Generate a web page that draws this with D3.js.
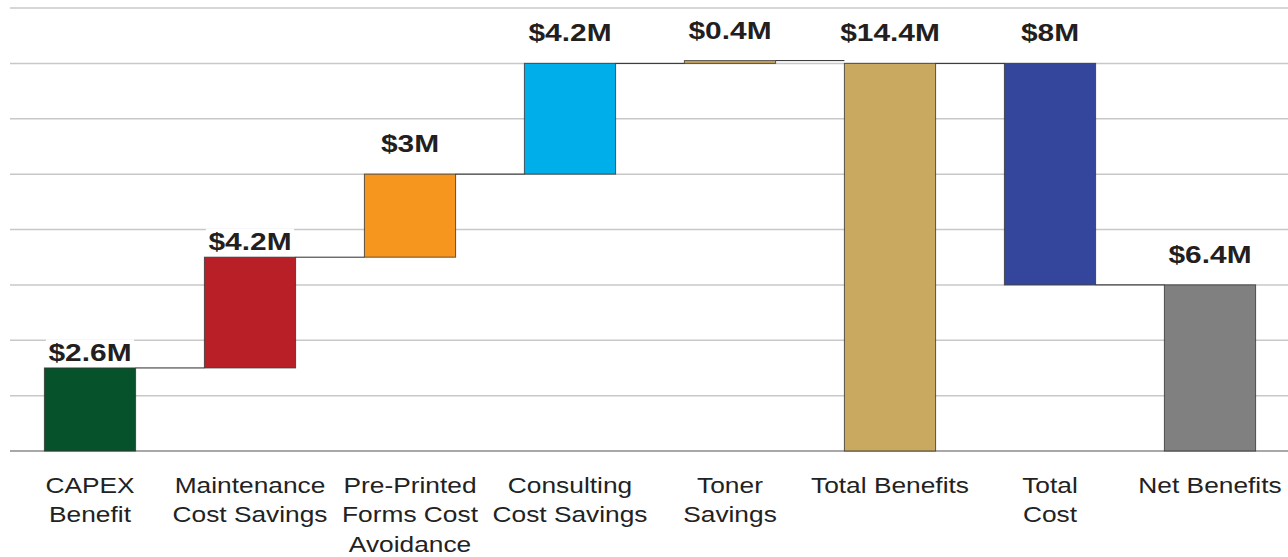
<!DOCTYPE html>
<html>
<head>
<meta charset="utf-8">
<script src="https://cdn.jsdelivr.net/npm/d3@7"></script>
<style>
  body { margin: 0; background: #fff; }
  svg { display: block; font-family: "Liberation Sans", Arial, Helvetica, sans-serif; }
</style>
</head>
<body>
<div id="chart"></div>
<script>
// chart data
var categories = [
  ["CAPEX", "Benefit"],
  ["Maintenance", "Cost Savings"],
  ["Pre-Printed", "Forms Cost", "Avoidance"],
  ["Consulting", "Cost Savings"],
  ["Toner", "Savings"],
  ["Total Benefits"],
  ["Total", "Cost"],
  ["Net Benefits"]
];
var steps = [3, 4, 3, 4, 0.1, 14, -8, 6];
var kinds = ["step", "step", "step", "step", "step", "total", "step", "total"];
var valueLabels = ["$2.6M", "$4.2M", "$3M", "$4.2M", "$0.4M", "$14.4M", "$8M", "$6.4M"];
var barColors = ["#06522a", "#b81f26", "#f6961f", "#00aeea", "#c9a860", "#c9a860", "#34469b", "#808080"];
var gridValues = [0, 2, 4, 6, 8, 10, 12, 14, 16];

function init() {
  var width = 1288, height = 557;

  var svg = d3.select("#chart")
    .append("svg")
    .attr("width", width)
    .attr("height", height);

  var x = d3.scaleBand()
    .domain(d3.range(categories.length))
    .range([10, 1290])
    .paddingInner(0.43)
    .paddingOuter(0.215);

  var y = d3.scaleLinear().domain([0, 16]).range([451, 8]);

  // running totals for the waterfall
  var level = 0;
  var bars = steps.map(function (v, i) {
    var y0, y1;
    if (kinds[i] === "total") {
      y0 = 0; y1 = v; level = v;
    } else {
      y0 = level; y1 = level + v; level = y1;
    }
    return { i: i, y0: y0, y1: y1, end: level };
  });

  // gridlines
  svg.append("g")
    .selectAll("line")
    .data(gridValues)
    .enter()
    .append("line")
    .attr("x1", 10)
    .attr("x2", width)
    .attr("y1", function (d) { return y(d); })
    .attr("y2", function (d) { return y(d); })
    .attr("stroke", function (d) { return d === 0 ? "#a8a8a8" : "#c8c8c8"; })
    .attr("stroke-width", function (d) { return d === 0 ? 2 : 1.5; });

  // bars
  svg.append("g")
    .selectAll("rect")
    .data(bars)
    .enter()
    .append("rect")
    .attr("x", function (d) { return x(d.i); })
    .attr("width", x.bandwidth())
    .attr("y", function (d) { return y(Math.max(d.y0, d.y1)); })
    .attr("height", function (d) { return Math.abs(y(d.y0) - y(d.y1)); })
    .attr("fill", function (d) { return barColors[d.i]; })
    .attr("stroke", "#333")
    .attr("stroke-opacity", 0.8)
    .attr("stroke-width", 1);

  // connectors between bars
  svg.append("g")
    .selectAll("line")
    .data(bars.slice(0, -1))
    .enter()
    .append("line")
    .attr("x1", function (d) { return x(d.i) + x.bandwidth(); })
    .attr("x2", function (d) { return x(d.i + 1); })
    .attr("y1", function (d) { return y(d.end); })
    .attr("y2", function (d) { return y(d.end); })
    .attr("stroke", "#2a2a2a")
    .attr("stroke-width", 1);

  // value labels (the picture is stretched sideways, so are the glyphs)
  var labels = svg.append("g")
    .selectAll("g")
    .data(bars)
    .enter()
    .append("g")
    .attr("transform", function (d) {
      var gap = d.i < 2 ? 7 : 22;
      var top = y(Math.max(d.y0, d.y1));
      return "translate(" + (x(d.i) + x.bandwidth() / 2) + "," + (top - gap) + ") scale(1.3,1)";
    });

  labels.append("text")
    .attr("text-anchor", "middle")
    .style("font-size", "23px")
    .style("font-weight", "bold")
    .attr("fill", "#231f20")
    .text(function (d) { return valueLabels[d.i]; })
    .each(function () {
      var b = this.getBBox();
      d3.select(this.parentNode)
        .insert("rect", "text")
        .attr("x", b.x - 2)
        .attr("y", b.y - 1)
        .attr("width", b.width + 4)
        .attr("height", b.height + 1)
        .attr("fill", "#fff");
    });

  // category labels
  var cats = svg.append("g")
    .selectAll("g")
    .data(categories)
    .enter()
    .append("g")
    .attr("transform", function (d, i) {
      return "translate(" + (x(i) + x.bandwidth() / 2) + ",493) scale(1.17,1)";
    });

  cats.append("text")
    .attr("text-anchor", "middle")
    .style("font-size", "22.5px")
    .attr("fill", "#222")
    .selectAll("tspan")
    .data(function (d) { return d; })
    .enter()
    .append("tspan")
    .attr("x", 0)
    .attr("y", function (d, j) { return j * 29.5; })
    .text(function (d) { return d; });
}
window.onload = init;
</script>
</body>
</html>
